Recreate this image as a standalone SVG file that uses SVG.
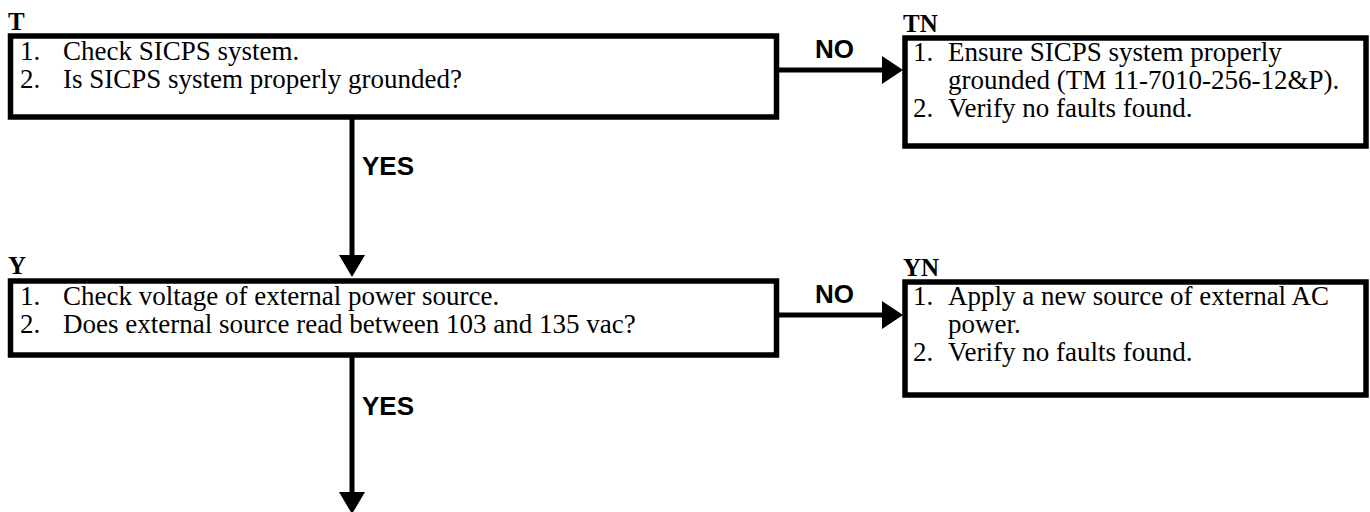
<svg xmlns="http://www.w3.org/2000/svg" width="1370" height="512" viewBox="0 0 1370 512">
<style>
.box{fill:#fff;stroke:#000;stroke-width:5.5}
.t{font-family:"Liberation Serif","Times New Roman",serif;font-size:27px;fill:#000}
.lbl{font-family:"Liberation Serif","Times New Roman",serif;font-size:25px;font-weight:bold;fill:#000}
.c{font-family:"Liberation Sans",Arial,sans-serif;font-size:26px;font-weight:bold;fill:#000}
.ln{stroke:#000;stroke-width:5;fill:none}
.ah{fill:#000}
</style>
<rect width="1370" height="512" fill="#fff"/>
<g id="connectors">
<line class="ln" x1="776" y1="70" x2="885" y2="70"/>
<polygon class="ah" points="882,56 903,70 882,84"/>
<line class="ln" x1="352" y1="119" x2="352" y2="258"/>
<polygon class="ah" points="339,255 352,277 365,255"/>
<line class="ln" x1="776" y1="315" x2="885" y2="315"/>
<polygon class="ah" points="882,301 903,315 882,329"/>
<line class="ln" x1="352" y1="356" x2="352" y2="495"/>
<polygon class="ah" points="339,492 352,514 365,492"/>
<text class="c" x="815" y="58">NO</text>
<text class="c" x="362" y="175">YES</text>
<text class="c" x="815" y="303">NO</text>
<text class="c" x="362" y="415">YES</text>
</g>
<g id="node-T">
<text class="lbl" x="8" y="30">T</text>
<rect class="box" x="10.5" y="36" width="766" height="81"/>
<text class="t" x="20" y="60">1.</text>
<text class="t" x="63" y="60">Check SICPS system.</text>
<text class="t" x="20" y="88">2.</text>
<text class="t" x="63" y="88">Is SICPS system properly grounded?</text>
</g>
<g id="node-TN">
<text class="lbl" x="903" y="32">TN</text>
<rect class="box" x="905" y="38" width="461" height="108"/>
<text class="t" x="913" y="61">1.</text>
<text class="t" x="948" y="61">Ensure SICPS system properly</text>
<text class="t" x="948" y="89">grounded (TM 11-7010-256-12&amp;P).</text>
<text class="t" x="913" y="117">2.</text>
<text class="t" x="948" y="117">Verify no faults found.</text>
</g>
<g id="node-Y">
<text class="lbl" x="8" y="274">Y</text>
<rect class="box" x="10.5" y="281" width="766" height="74"/>
<text class="t" x="20" y="305">1.</text>
<text class="t" x="63" y="305">Check voltage of external power source.</text>
<text class="t" x="20" y="333">2.</text>
<text class="t" x="63" y="333">Does external source read between 103 and 135 vac?</text>
</g>
<g id="node-YN">
<text class="lbl" x="903" y="276">YN</text>
<rect class="box" x="905" y="282" width="461" height="113"/>
<text class="t" x="913" y="305">1.</text>
<text class="t" x="948" y="305">Apply a new source of external AC</text>
<text class="t" x="948" y="333">power.</text>
<text class="t" x="913" y="361">2.</text>
<text class="t" x="948" y="361">Verify no faults found.</text>
</g>
</svg>
